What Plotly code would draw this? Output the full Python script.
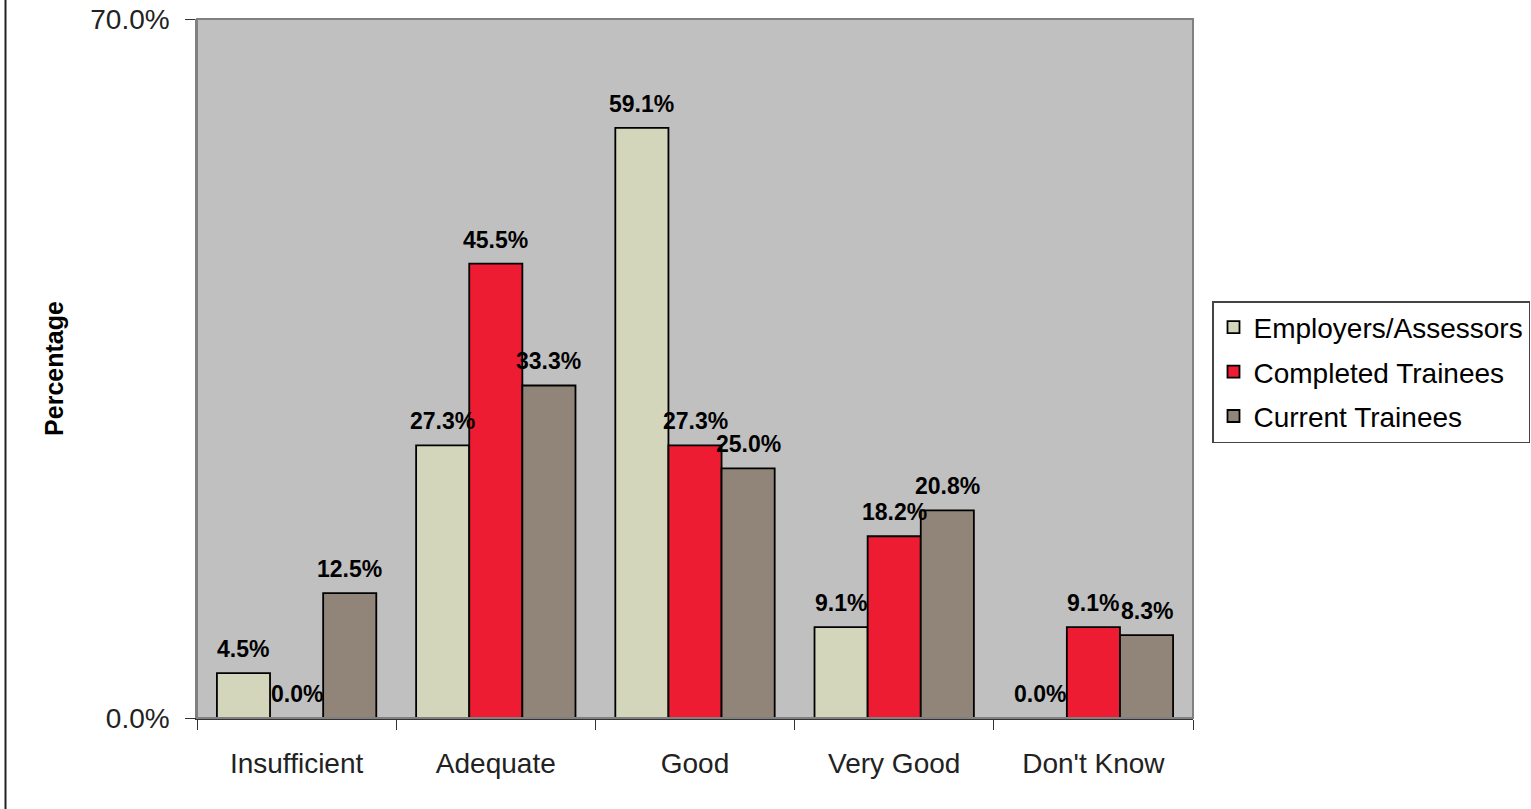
import plotly.graph_objects as go

# Survey ratings by respondent group (percent of respondents)
categories = ["Insufficient", "Adequate", "Good", "Very Good", "Don't Know"]
series_names = ["Employers/Assessors", "Completed Trainees", "Current Trainees"]
employers = [4.5, 27.3, 59.1, 9.1, 0.0]
completed = [0.0, 45.5, 27.3, 18.2, 9.1]
current = [12.5, 33.3, 25.0, 20.8, 8.3]
series_values = [employers, completed, current]
series_colors = ["#d3d6bb", "#ed1c33", "#918579"]

y_ticks = [0, 70]

W, H = 1531, 809
M_L, M_R, M_T, M_B = 197, 338, 19, 91
plot_w = W - M_L - M_R
plot_h = H - M_T - M_B
BARGAP = 0.2
bar_px = plot_w / len(categories) * (1 - BARGAP) / len(series_names)

FONT = "Liberation Sans, Arial, Helvetica, sans-serif"

fig = go.Figure()
for i, (name, vals, col) in enumerate(zip(series_names, series_values, series_colors)):
    fig.add_trace(go.Bar(
        x=categories, y=vals, name=name,
        marker=dict(color=col, line=dict(color="#000000", width=1.8)),
        legendgroup=name,
    ))
    # value labels above each bar
    for cat, v in zip(categories, vals):
        fig.add_annotation(
            x=cat, y=v, xref="x", yref="y",
            text=f"{v:.1f}%", showarrow=False,
            xshift=(i - 1) * bar_px, yshift=24,
            font=dict(family=FONT, size=23, color="#000000", weight="bold"),
        )

# plot-area frame and outer left rule
fig.add_shape(type="rect", xref="paper", yref="paper", x0=0, x1=1, y0=0, y1=1,
              line=dict(color="#808080", width=2), layer="above")
left_rule_x = (5.5 - M_L) / plot_w
fig.add_shape(type="line", xref="paper", yref="paper",
              x0=left_rule_x, x1=left_rule_x, y0=-M_B / plot_h, y1=1 + M_T / plot_h,
              line=dict(color="#222222", width=2))

fig.update_layout(
    width=W, height=H,
    margin=dict(l=M_L, r=M_R, t=M_T, b=M_B, autoexpand=False),
    paper_bgcolor="#ffffff",
    plot_bgcolor="#c0c0c0",
    barmode="group",
    bargap=BARGAP,
    bargroupgap=0,
    font=dict(family=FONT, color="#000000"),
    showlegend=True,
    legend=dict(
        x=(1212 - M_L) / plot_w, xanchor="left",
        y=(H - M_B - 301) / plot_h, yanchor="top",
        bgcolor="#ffffff", bordercolor="#444444", borderwidth=1.5,
        font=dict(family=FONT, size=28, color="#000000"),
        traceorder="grouped", tracegroupgap=5,
    ),
    xaxis=dict(
        type="category", automargin=False,
        showgrid=False, zeroline=False,
        showline=True, linecolor="#333333", linewidth=1.5,
        ticks="outside", tickson="boundaries", ticklen=10, tickcolor="#333333",
        tickfont=dict(family=FONT, size=28, color="#222222"),
        ticklabelstandoff=20,
    ),
    yaxis=dict(
        range=[0, 70], automargin=False,
        tickvals=y_ticks, ticktext=[f"{t:.1f}%" for t in y_ticks],
        showgrid=False, zeroline=False,
        showline=True, linecolor="#808080", linewidth=1.5,
        ticks="outside", ticklen=10, tickcolor="#333333",
        tickfont=dict(family=FONT, size=28, color="#222222"),
        ticklabelstandoff=10,
        title=dict(text="Percentage", standoff=19,
                   font=dict(family=FONT, size=25, color="#000000", weight="bold")),
    ),
)

fig.write_html("out.html")
